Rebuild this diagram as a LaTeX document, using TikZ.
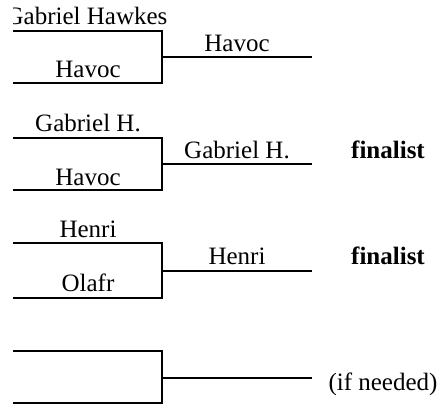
\documentclass[tikz,border=0pt]{standalone}
\usepackage{fontspec}
\setmainfont{Liberation Serif}
\begin{document}
\begin{tikzpicture}[x=1pt,y=-1pt,
  bline/.style={line width=2pt,line join=miter},
  lbl/.style={anchor=base,inner sep=0pt,font=\fontsize{25}{29}\selectfont},
  note/.style={anchor=base,inner sep=0pt,font=\fontsize{25}{29}\selectfont\bfseries}]
\useasboundingbox (0,0) rectangle (445,406);
% bracket coordinates
\foreach \n/\yt/\yb/\yo in {1/31/83/57,2/138/190/164,3/243/298/271,4/351/403/378}{
  \coordinate (t\n a) at (13,\yt);
  \coordinate (t\n b) at (162,\yt);
  \coordinate (b\n a) at (13,\yb);
  \coordinate (b\n b) at (162,\yb);
  \coordinate (o\n a) at (162,\yo);
  \coordinate (o\n b) at (312,\yo);
}
\foreach \n in {1,2,3,4}{
  \draw[bline] (t\n a) -- (t\n b) -- (b\n b) -- (b\n a);
  \draw[bline] (o\n a) -- (o\n b);
}
% bracket 1
\begin{scope}
\clip (13,0) rectangle (445,406);
\node[lbl] (g1) at (86.5,25) {Gabriel Hawkes};
\end{scope}
\node[lbl] (h1) at (88,78) {Havoc};
\node[lbl] (w1) at (237,52) {Havoc};
% bracket 2
\node[lbl] (g2) at (88,132) {Gabriel H.};
\node[lbl] (h2) at (88,186) {Havoc};
\node[lbl] (w2) at (237,159) {Gabriel H.};
\node[note] (f2) at (388,159) {finalist};
% bracket 3
\node[lbl] (g3) at (88,238) {Henri};
\node[lbl] (h3) at (88,292) {Olafr};
\node[lbl] (w3) at (237,265) {Henri};
\node[note] (f3) at (388,265) {finalist};
% bracket 4
\node[lbl] (n4) at (383,391) {(if needed)};
\end{tikzpicture}
\end{document}
